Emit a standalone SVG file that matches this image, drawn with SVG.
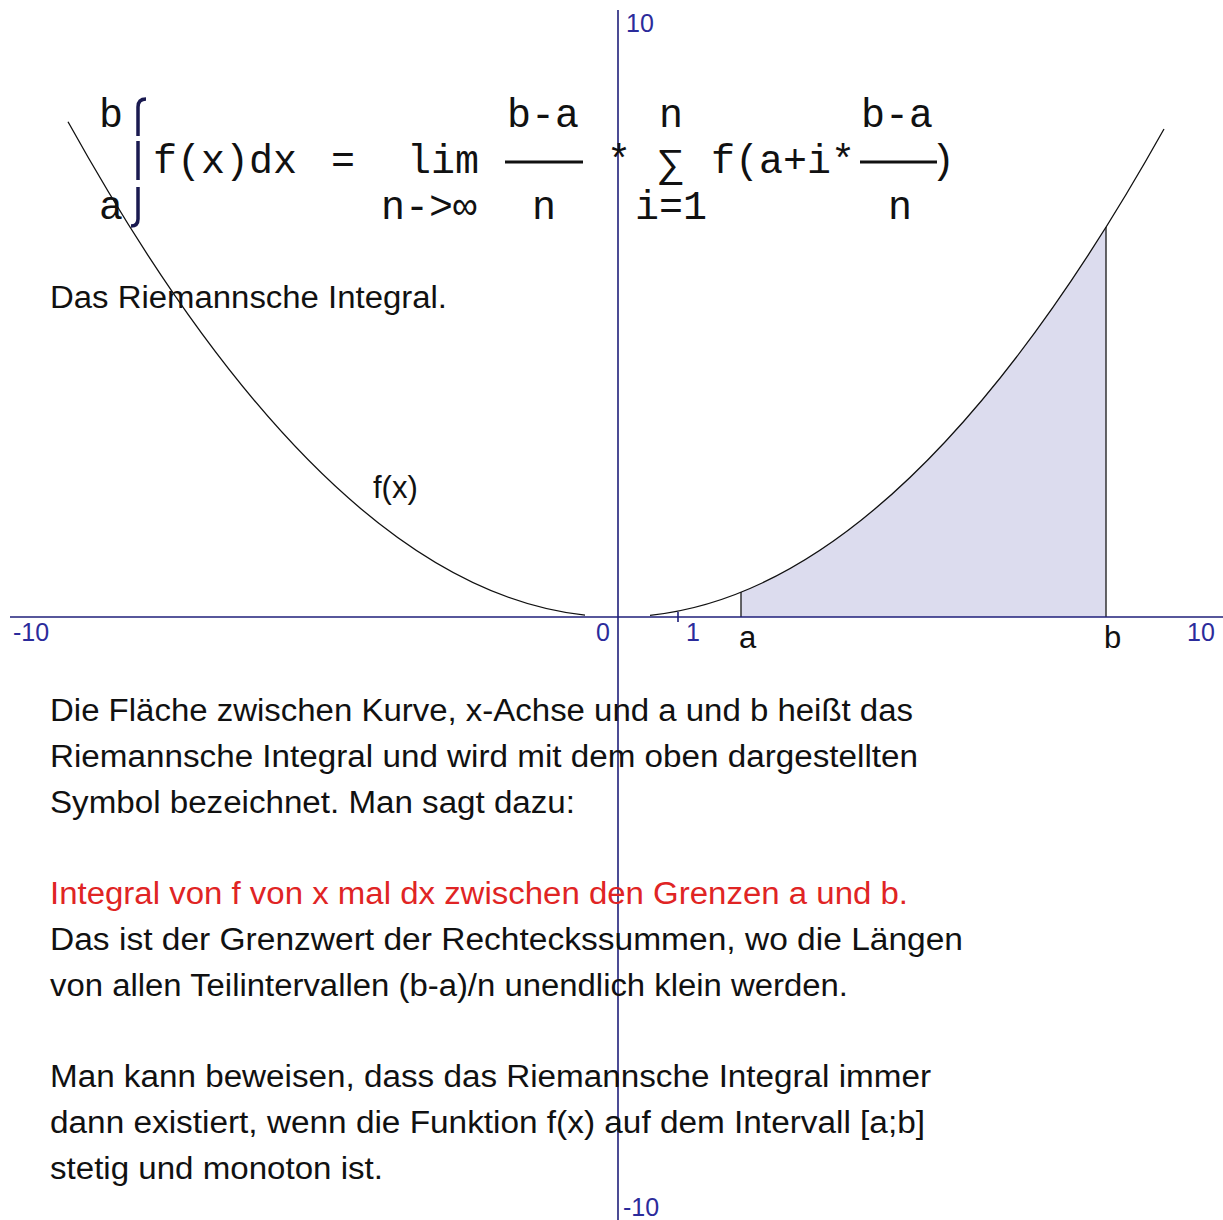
<svg xmlns="http://www.w3.org/2000/svg" width="1223" height="1220" viewBox="0 0 1223 1220">
<style>
.mono{font-family:"Liberation Mono","Courier New",monospace;font-size:40px;fill:#111}
.sans{font-family:"Liberation Sans",Arial,sans-serif;font-size:31px;fill:#111}
.red{fill:#e02424}
.ax{font-family:"Liberation Sans",Arial,sans-serif;font-size:25px;fill:#2b2b9b}
.axis{stroke:#1f1f7a;stroke-width:1.6;fill:none}
.curve{stroke:#111;stroke-width:1.3;fill:none}
.frac{stroke:#111;stroke-width:3}
.intg{stroke:#1a1a50;stroke-width:3.5;fill:none}
</style>
<rect width="1223" height="1220" fill="#fff"/>
<g id="area">
<path d="M741,617 L741,592.2 Q923.5,518.7 1106,227.2 L1106,617 Z" fill="#dcdcee"/>
<line x1="741" y1="592" x2="741" y2="617" stroke="#333" stroke-width="1.5"/>
<line x1="1106" y1="227" x2="1106" y2="617" stroke="#333" stroke-width="1.5"/>
</g>
<g id="axes">
<line class="axis" x1="10" y1="617" x2="1223" y2="617"/>
<line class="axis" x1="618" y1="10" x2="618" y2="1220"/>
<line class="axis" x1="678" y1="612" x2="678" y2="622"/>
<text class="ax" x="13" y="641">-10</text>
<text class="ax" x="596" y="641">0</text>
<text class="ax" x="686" y="641">1</text>
<text class="ax" x="1187" y="641">10</text>
<text class="ax" x="626" y="32">10</text>
<text class="ax" x="623" y="1216">-10</text>
</g>
<g id="curve">
<path class="curve" d="M68,121.8 Q326.5,587.3 585,615.2"/>
<path class="curve" d="M650,615.3 Q907,588.4 1164,129"/>
<text class="sans" x="373" y="498">f(x)</text>
<text class="sans" x="739" y="648" font-size="27">a</text>
<text class="sans" x="1104" y="648" font-size="27">b</text>
</g>
<g id="formula">
<path class="intg" d="M138,136 L138,107 Q138,99 146,99"/>
<path class="intg" d="M138,141 L138,180"/>
<path class="intg" d="M138,187 L138,219 Q138,226 131,226"/>
<text class="mono" x="99" y="127">b</text>
<text class="mono" x="99" y="219">a</text>
<text class="mono" x="153" y="173">f(x)dx</text>
<text class="mono" x="331" y="173">=</text>
<text class="mono" x="407" y="173">lim</text>
<text class="mono" x="507" y="127">b-a</text>
<line class="frac" x1="505" y1="162" x2="583" y2="162"/>
<text class="mono" x="532" y="219">n</text>
<text class="mono" x="381" y="219">n-&gt;∞</text>
<text class="mono" x="607" y="173">*</text>
<text class="mono" x="659" y="127">n</text>
<text class="mono" x="659" y="176" font-size="34">∑</text>
<text class="mono" x="711" y="173">f(a+i*</text>
<line class="frac" x1="860" y1="162" x2="937" y2="162"/>
<text class="mono" x="931" y="173">)</text>
<text class="mono" x="861" y="127">b-a</text>
<text class="mono" x="635" y="219">i=1</text>
<text class="mono" x="888" y="219">n</text>
</g>
<g id="text">
<text class="sans" x="50" y="308" textLength="397" lengthAdjust="spacingAndGlyphs">Das Riemannsche Integral.</text>
<text class="sans" x="50" y="721" textLength="863" lengthAdjust="spacingAndGlyphs">Die Fläche zwischen Kurve, x-Achse und a und b heißt das</text>
<text class="sans" x="50" y="767" textLength="868" lengthAdjust="spacingAndGlyphs">Riemannsche Integral und wird mit dem oben dargestellten</text>
<text class="sans" x="50" y="813" textLength="525" lengthAdjust="spacingAndGlyphs">Symbol bezeichnet. Man sagt dazu:</text>
<text class="sans red" x="50" y="904" textLength="858" lengthAdjust="spacingAndGlyphs">Integral von f von x mal dx zwischen den Grenzen a und b.</text>
<text class="sans" x="50" y="950" textLength="913" lengthAdjust="spacingAndGlyphs">Das ist der Grenzwert der Rechteckssummen, wo die Längen</text>
<text class="sans" x="50" y="996" textLength="798" lengthAdjust="spacingAndGlyphs">von allen Teilintervallen (b-a)/n unendlich klein werden.</text>
<text class="sans" x="50" y="1087" textLength="881" lengthAdjust="spacingAndGlyphs">Man kann beweisen, dass das Riemannsche Integral immer</text>
<text class="sans" x="50" y="1133" textLength="875" lengthAdjust="spacingAndGlyphs">dann existiert, wenn die Funktion f(x) auf dem Intervall [a;b]</text>
<text class="sans" x="50" y="1179" textLength="333" lengthAdjust="spacingAndGlyphs">stetig und monoton ist.</text>
</g>
</svg>
